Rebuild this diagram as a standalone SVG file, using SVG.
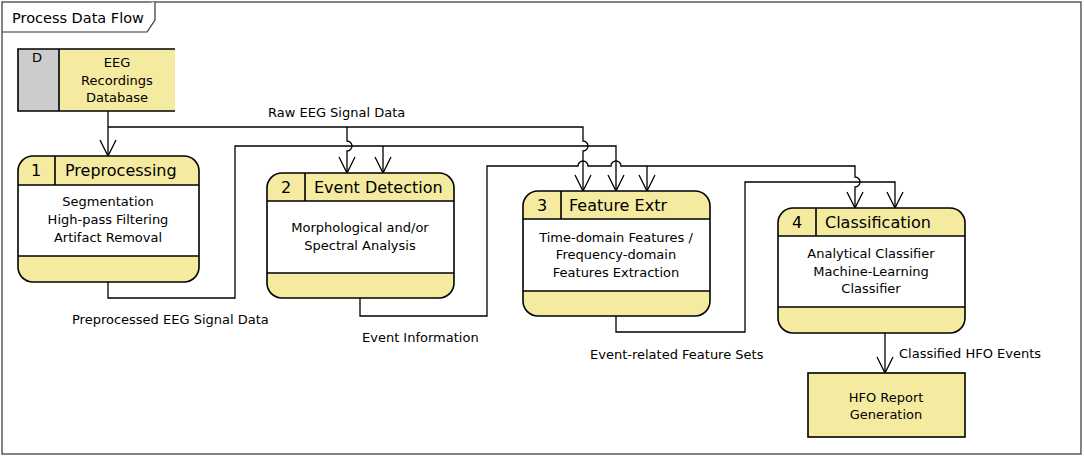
<svg xmlns="http://www.w3.org/2000/svg" width="1084" height="457" viewBox="0 0 1084 457">
<style>
text{font-family:"DejaVu Sans","Liberation Sans",sans-serif;fill:#000}
.t{font-size:14.5px}
.b{font-size:13px;text-anchor:middle}
.l{font-size:13px}
.h{font-size:16px}
.n{font-size:16px;text-anchor:middle}
.box{stroke:#000;stroke-width:1.6;fill:none}
.y{fill:#f5eba0}
.w{fill:#fff}
.ln{stroke:#000;stroke-width:1.6}
.c{fill:none;stroke:#000;stroke-width:1.3}
</style>
<defs>
<marker id="arr" viewBox="-18 -10 20 20" refX="0" refY="0" markerWidth="20" markerHeight="20" orient="auto" markerUnits="userSpaceOnUse">
<path d="M-16,-8 L0,0 L-16,8" fill="none" stroke="#000" stroke-width="1.3"/>
</marker>
</defs>
<rect x="0" y="0" width="1084" height="457" fill="#fff"/>
<g id="frame">
<rect x="2" y="2" width="1079" height="452" fill="none" stroke="#333" stroke-width="1.2"/>
<path d="M2,32 H147 L155,20 V2" fill="#fff" stroke="#333" stroke-width="1.2"/>
<text class="t" x="12" y="23">Process Data Flow</text>
</g>
<g id="connectors" class="c">
<path d="M108,111 V156" marker-end="url(#arr)"/>
<path d="M108,127 H583 V141 A5,5 0 0 1 583,151 V191" marker-end="url(#arr)"/>
<path d="M347,127 V141 A5,5 0 0 1 347,151 V173" marker-end="url(#arr)"/>
<path d="M108,282 V298 H235 V146 H616 V191" marker-end="url(#arr)"/>
<path d="M383,146 V173" marker-end="url(#arr)"/>
<path d="M360,298 V316 H487 V166 H578 A5,5 0 0 1 588,166 H611 A5,5 0 0 1 621,166 H855 V177 A5,5 0 0 1 855,187 V208" marker-end="url(#arr)"/>
<path d="M647,166 V191" marker-end="url(#arr)"/>
<path d="M616,316 V332 H745 V182 H895 V208" marker-end="url(#arr)"/>
<path d="M885,333 V373" marker-end="url(#arr)"/>
</g>
<g id="labels">
<text class="l" x="268" y="117">Raw EEG Signal Data</text>
<text class="l" x="72" y="324">Preprocessed EEG Signal Data</text>
<text class="l" x="362" y="342">Event Information</text>
<text class="l" x="590" y="359">Event-related Feature Sets</text>
<text class="l" x="899" y="358">Classified HFO Events</text>
</g>
<g id="database">
<rect x="18" y="49" width="41" height="62" fill="#cccccc"/>
<rect x="59" y="49" width="116" height="62" class="y"/>
<path d="M175,49 H18 V111 H175 M59,49 V111" class="box"/>
<text class="b" x="37" y="62">D</text>
<text class="b" x="117" y="67">EEG</text>
<text class="b" x="117" y="85">Recordings</text>
<text class="b" x="117" y="102">Database</text>
</g>
<g id="p1">
<rect x="18" y="156" width="181" height="126" rx="15" class="y"/>
<rect x="18" y="185" width="181" height="71" class="w"/>
<path d="M18,185 H199 M18,256 H199 M55,156 V185" class="ln"/>
<rect x="18" y="156" width="181" height="126" rx="15" class="box"/>
<text class="n" x="36" y="176">1</text>
<text class="h" x="65" y="176">Preprocessing</text>
<text class="b" x="108" y="206">Segmentation</text>
<text class="b" x="108" y="224">High-pass Filtering</text>
<text class="b" x="108" y="242">Artifact Removal</text>
</g>
<g id="p2">
<rect x="267" y="173" width="187" height="125" rx="15" class="y"/>
<rect x="267" y="201" width="187" height="72" class="w"/>
<path d="M267,201 H454 M267,273 H454 M305,173 V201" class="ln"/>
<rect x="267" y="173" width="187" height="125" rx="15" class="box"/>
<text class="n" x="286" y="193">2</text>
<text class="h" x="314" y="193">Event Detection</text>
<text class="b" x="360" y="232">Morphological and/or</text>
<text class="b" x="360" y="250">Spectral Analysis</text>
</g>
<g id="p3">
<rect x="523" y="191" width="187" height="125" rx="15" class="y"/>
<rect x="523" y="219" width="187" height="72" class="w"/>
<path d="M523,219 H710 M523,291 H710 M561,191 V219" class="ln"/>
<rect x="523" y="191" width="187" height="125" rx="15" class="box"/>
<text class="n" x="542" y="211">3</text>
<text class="h" x="569" y="211">Feature Extr</text>
<text class="b" x="616" y="242">Time-domain Features /</text>
<text class="b" x="616" y="259">Frequency-domain</text>
<text class="b" x="616" y="277">Features Extraction</text>
</g>
<g id="p4">
<rect x="778" y="208" width="187" height="125" rx="15" class="y"/>
<rect x="778" y="236" width="187" height="71" class="w"/>
<path d="M778,236 H965 M778,307 H965 M816,208 V236" class="ln"/>
<rect x="778" y="208" width="187" height="125" rx="15" class="box"/>
<text class="n" x="797" y="228">4</text>
<text class="h" x="825" y="228">Classification</text>
<text class="b" x="871" y="258">Analytical Classifier</text>
<text class="b" x="871" y="276">Machine-Learning</text>
<text class="b" x="871" y="293">Classifier</text>
</g>
<g id="report">
<rect x="808" y="373" width="157" height="64" class="y box" style="fill:#f5eba0"/>
<text class="b" x="886" y="402">HFO Report</text>
<text class="b" x="886" y="419">Generation</text>
</g>
</svg>
